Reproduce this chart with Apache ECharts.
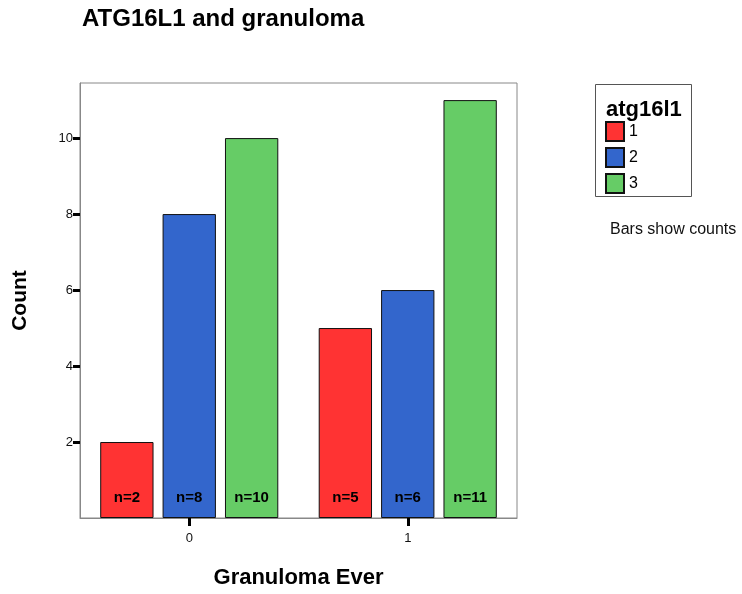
<!DOCTYPE html>
<html><head><meta charset="utf-8">
<script src="https://cdn.jsdelivr.net/npm/echarts@6/dist/echarts.min.js"></script>
<style>html,body{margin:0;padding:0;background:#fff}#c{width:742px;height:594px}</style>
</head><body><div id="c"></div>
<script>
var categories = ['0', '1'];
var seriesNames = ['1', '2', '3'];
var values1 = [2, 5];
var values2 = [8, 6];
var values3 = [10, 11];
var colors = ['#FF3333', '#3366CC', '#66CC66'];
var yTicks = [2, 4, 6, 8, 10];

var FONT = '"Liberation Sans", Arial, sans-serif';
var chart = echarts.init(document.getElementById('c'));
function mk(name, data, color) {
  return {
    name: name, type: 'bar', data: data,
    barGap: '17%', barCategoryGap: '18.5%',
    itemStyle: { color: color, borderColor: '#111', borderWidth: 1 },
    label: { show: true, position: 'insideBottom', distance: 13, formatter: function(p){ return 'n=' + p.value; },
      color: '#000', fontWeight: 'bold', fontSize: 15, fontFamily: FONT }
  };
}
chart.setOption({
  animation: false,
  backgroundColor: '#fff',
  textStyle: { fontFamily: FONT },
  title: { text: 'ATG16L1 and granuloma', left: 77, top: 2,
    textStyle: { fontSize: 24, fontWeight: 'bold', color: '#000', fontFamily: FONT } },
  grid: { left: 80, right: 225, top: 83, bottom: 76, outerBoundsMode: 'none', containLabel: false,
    show: true, borderColor: '#888', borderWidth: 1, backgroundColor: '#fff' },
  legend: { orient: 'vertical', left: 600, top: 116, itemWidth: 18, itemHeight: 19, itemGap: 5,
    icon: 'rect', data: seriesNames,
    textStyle: { fontSize: 16, color: '#000', fontFamily: FONT, padding: [0,0,0,0] } },
  xAxis: {
    type: 'category', data: categories,
    name: 'Granuloma Ever', nameLocation: 'middle', nameGap: 49,
    nameTextStyle: { fontSize: 22, fontWeight: 'bold', color: '#000', fontFamily: FONT },
    axisLine: { show: true, lineStyle: { color: '#888', width: 1 } },
    axisTick: { show: true, alignWithLabel: true, length: 8, lineStyle: { color: '#000', width: 3 } },
    axisLabel: { fontSize: 13, color: '#111', margin: 14, fontFamily: FONT }
  },
  yAxis: {
    type: 'value', min: 0, max: 11.45, interval: 2,
    name: 'Count', nameLocation: 'middle', nameGap: 49,
    nameTextStyle: { fontSize: 21, fontWeight: 'bold', color: '#000', fontFamily: FONT },
    axisLine: { show: true, lineStyle: { color: '#888', width: 1 } },
    axisTick: { show: true, length: 7, customValues: yTicks, lineStyle: { color: '#000', width: 3 } },
    axisLabel: { fontSize: 13, color: '#111', margin: 7, customValues: yTicks, fontFamily: FONT },
    splitLine: { show: false }
  },
  graphic: [
    { type: 'rect', shape: { x: 595.5, y: 84.5, width: 96, height: 112 },
      style: { fill: 'none', stroke: '#555', lineWidth: 1 }, z: 0 },
    { type: 'text', left: 606, top: 99, style: { text: 'atg16l1', font: 'bold 22px ' + FONT, fill: '#000' } },
    { type: 'text', left: 610, top: 222, style: { text: 'Bars show counts', font: '16px ' + FONT, fill: '#111' } }
  ],
  series: [mk(seriesNames[0], values1, colors[0]), mk(seriesNames[1], values2, colors[1]), mk(seriesNames[2], values3, colors[2])]
});
</script></body></html>
